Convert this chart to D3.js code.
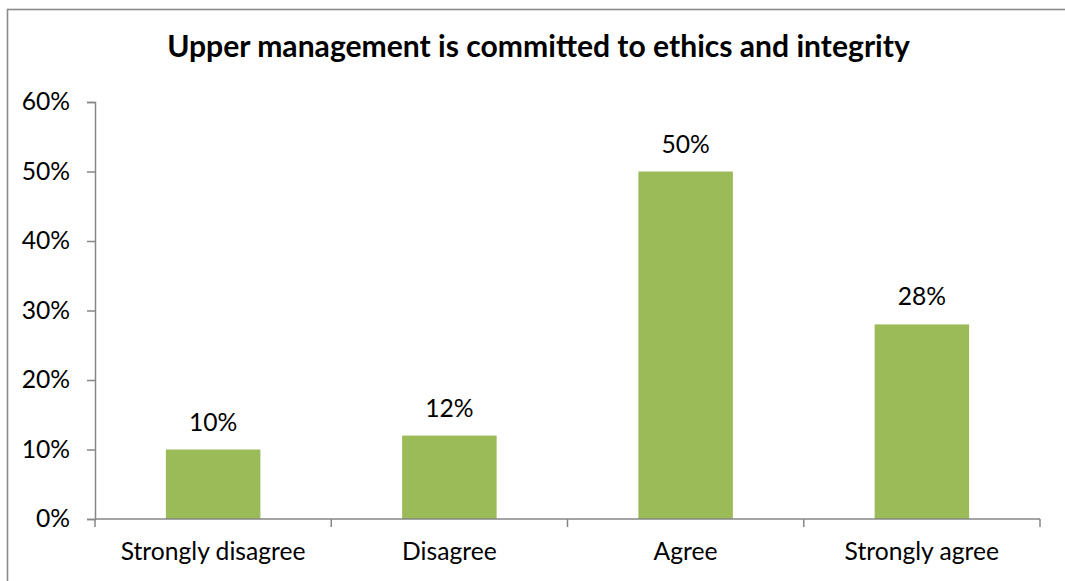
<!DOCTYPE html>
<html>
<head>
<meta charset="utf-8">
<script src="https://cdn.jsdelivr.net/npm/d3@7"></script>
<style>
  html, body { margin: 0; padding: 0; background: #fff; }
  svg { display: block; }
  text { font-family: Lato, "Open Sans", sans-serif; fill: #000; }
</style>
</head>
<body>
<svg id="chart" width="1065" height="581"></svg>
<script>
// Survey responses
const title = "Upper management is committed to ethics and integrity";
const categories = ["Strongly disagree", "Disagree", "Agree", "Strongly agree"];
const shares = [0.10, 0.12, 0.50, 0.28];
const yTicks = [0, 0.1, 0.2, 0.3, 0.4, 0.5, 0.6];

const W = 1065, H = 581;
const margin = { left: 95, right: 25, top: 102, bottom: 62 };
const plotRight = W - margin.right;   // 1040
const plotBottom = H - margin.bottom; // 519

const svg = d3.select("#chart");
const axisColor = "#868686";
const barColor = "#9BBB59";

// Chart frame
svg.append("rect")
  .attr("x", 7.5).attr("y", 9.5)
  .attr("width", W + 20).attr("height", H + 20)
  .attr("fill", "none")
  .attr("stroke", "#8a8a8a")
  .attr("stroke-width", 1.6);

// Pick a font size so a sample string spans a given width
function fitSize(str, targetWidth, weight) {
  const t = svg.append("text").attr("font-size", 100).attr("font-weight", weight).text(str);
  const w = t.node().getComputedTextLength();
  t.remove();
  return 100 * targetWidth / w;
}
const labelSize = fitSize("Strongly disagree", 185, 400);
const titleSize = fitSize(title, 743, 700);

const x = d3.scaleBand()
  .domain(categories)
  .range([margin.left, plotRight])
  .paddingInner(0.6)
  .paddingOuter(0.3);

const y = d3.scaleLinear()
  .domain([0, 0.6])
  .range([plotBottom, margin.top]);

// Title
svg.append("text")
  .attr("x", (167 + 910) / 2)
  .attr("y", 57)
  .attr("text-anchor", "middle")
  .attr("font-weight", 700)
  .attr("font-size", titleSize)
  .text(title);

// Bars
svg.append("g").selectAll("rect")
  .data(shares)
  .join("rect")
  .attr("x", (d, i) => x(categories[i]))
  .attr("y", d => y(d))
  .attr("width", x.bandwidth())
  .attr("height", d => y(0) - y(d))
  .attr("fill", barColor);

// Value labels
svg.append("g").selectAll("text")
  .data(shares)
  .join("text")
  .attr("x", (d, i) => x(categories[i]) + x.bandwidth() / 2)
  .attr("y", d => y(d) - 19)
  .attr("text-anchor", "middle")
  .attr("font-size", labelSize)
  .text(d => d3.format(".0%")(d));

// Y axis
const yAxis = svg.append("g")
  .attr("transform", `translate(${margin.left},0)`)
  .call(d3.axisLeft(y).tickValues(yTicks).tickFormat(d3.format(".0%")).tickSize(8).tickPadding(17));
yAxis.select(".domain").attr("stroke", axisColor).attr("stroke-width", 1.5);
yAxis.selectAll(".tick line").attr("stroke", axisColor).attr("stroke-width", 1.5);
yAxis.selectAll(".tick text")
  .attr("font-size", labelSize)
  .attr("font-family", null)
  .attr("fill", "#000");

// X axis with ticks at category boundaries
const bounds = d3.range(categories.length + 1).map(i => margin.left + i * x.step());
const xg = svg.append("g");
xg.append("line")
  .attr("x1", margin.left).attr("x2", plotRight)
  .attr("y1", plotBottom).attr("y2", plotBottom)
  .attr("stroke", axisColor).attr("stroke-width", 1.5);
xg.selectAll("line.tick")
  .data(bounds)
  .join("line")
  .attr("class", "tick")
  .attr("x1", d => d).attr("x2", d => d)
  .attr("y1", plotBottom).attr("y2", plotBottom + 8)
  .attr("stroke", axisColor).attr("stroke-width", 1.5);
xg.selectAll("text")
  .data(categories)
  .join("text")
  .attr("x", d => x(d) + x.bandwidth() / 2)
  .attr("y", plotBottom + 41)
  .attr("text-anchor", "middle")
  .attr("font-size", labelSize)
  .text(d => d);
</script>
</body>
</html>
